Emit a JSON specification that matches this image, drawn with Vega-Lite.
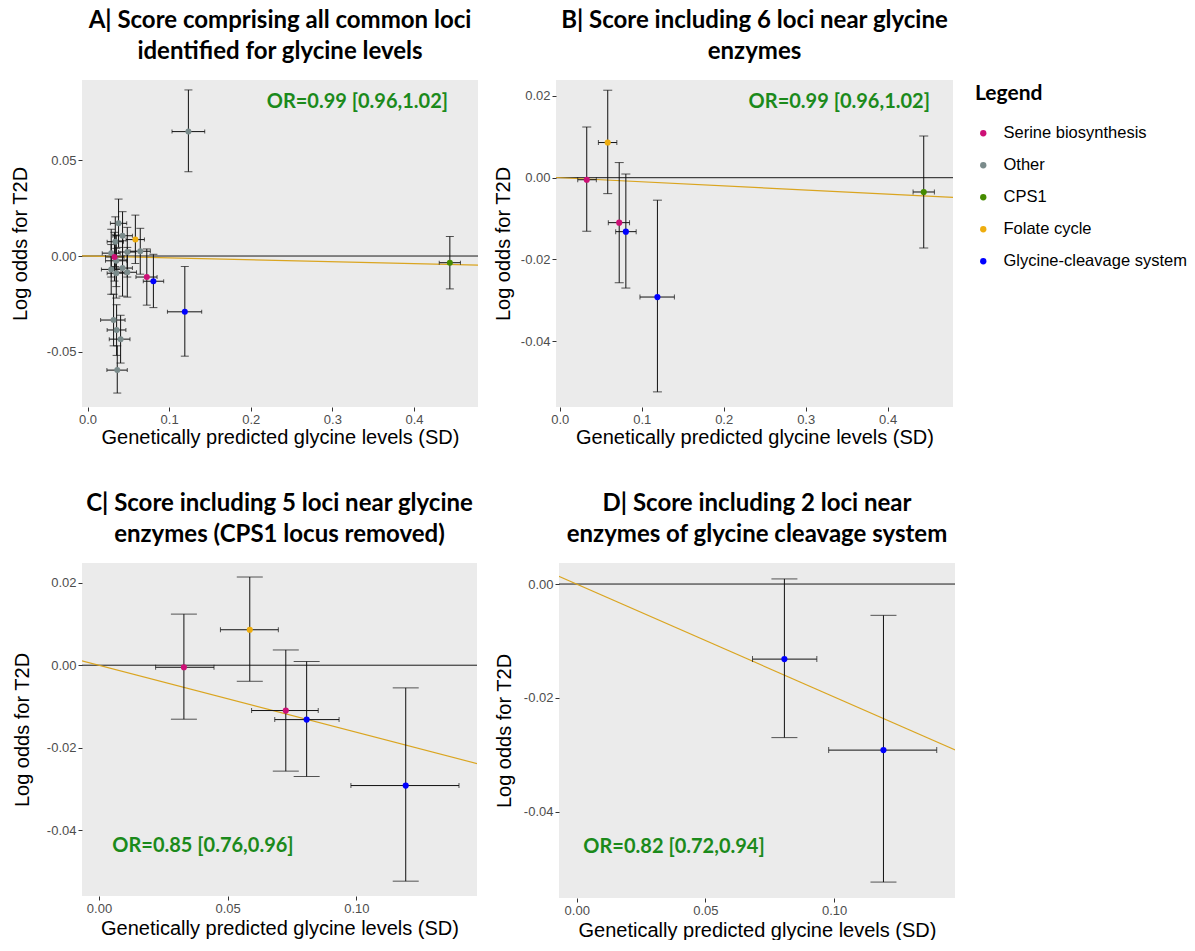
{
  "$schema": "https://vega.github.io/schema/vega-lite/v6.json",
  "padding": {"left": 10, "top": 9, "right": 0, "bottom": 0},
  "datasets": {
    "loci": [
      {"category": "Other", "x": 0.1236, "y": 0.0651, "xlo": 0.1035, "xhi": 0.1436, "ylo": 0.0441, "yhi": 0.0869, "enzyme": false},
      {"category": "Other", "x": 0.038, "y": 0.0171, "xlo": 0.028, "xhi": 0.048, "ylo": 0.0045, "yhi": 0.0298, "enzyme": false},
      {"category": "Other", "x": 0.0429, "y": 0.0106, "xlo": 0.031, "xhi": 0.055, "ylo": -0.002, "yhi": 0.0232, "enzyme": false},
      {"category": "Other", "x": 0.034, "y": 0.0075, "xlo": 0.024, "xhi": 0.044, "ylo": -0.0055, "yhi": 0.0205, "enzyme": false},
      {"category": "Other", "x": 0.029, "y": 0.0015, "xlo": 0.018, "xhi": 0.04, "ylo": -0.011, "yhi": 0.014, "enzyme": false},
      {"category": "Other", "x": 0.0487, "y": 0.0021, "xlo": 0.038, "xhi": 0.059, "ylo": -0.011, "yhi": 0.015, "enzyme": false},
      {"category": "Other", "x": 0.0646, "y": 0.0025, "xlo": 0.052, "xhi": 0.077, "ylo": -0.0095, "yhi": 0.0145, "enzyme": false},
      {"category": "Other", "x": 0.0352, "y": -0.0025, "xlo": 0.022, "xhi": 0.048, "ylo": -0.016, "yhi": 0.011, "enzyme": false},
      {"category": "Other", "x": 0.029, "y": -0.007, "xlo": 0.017, "xhi": 0.041, "ylo": -0.02, "yhi": 0.006, "enzyme": false},
      {"category": "Other", "x": 0.0352, "y": -0.009, "xlo": 0.024, "xhi": 0.046, "ylo": -0.022, "yhi": 0.004, "enzyme": false},
      {"category": "Other", "x": 0.0429, "y": -0.0063, "xlo": 0.031, "xhi": 0.055, "ylo": -0.021, "yhi": 0.008, "enzyme": false},
      {"category": "Other", "x": 0.0487, "y": -0.0085, "xlo": 0.037, "xhi": 0.06, "ylo": -0.0215, "yhi": 0.0045, "enzyme": false},
      {"category": "Other", "x": 0.0319, "y": -0.0335, "xlo": 0.016, "xhi": 0.046, "ylo": -0.047, "yhi": -0.02, "enzyme": false},
      {"category": "Other", "x": 0.0356, "y": -0.0387, "xlo": 0.024, "xhi": 0.047, "ylo": -0.052, "yhi": -0.0255, "enzyme": false},
      {"category": "Other", "x": 0.0405, "y": -0.0435, "xlo": 0.0266, "xhi": 0.052, "ylo": -0.056, "yhi": -0.031, "enzyme": false},
      {"category": "Other", "x": 0.0364, "y": -0.0597, "xlo": 0.0237, "xhi": 0.0487, "ylo": -0.0717, "yhi": -0.047, "enzyme": false},
      {"category": "Serine biosynthesis", "x": 0.033, "y": -0.0005, "xlo": 0.022, "xhi": 0.0447, "ylo": -0.0131, "yhi": 0.0124, "enzyme": true},
      {"category": "Serine biosynthesis", "x": 0.0726, "y": -0.011, "xlo": 0.0593, "xhi": 0.0852, "ylo": -0.0257, "yhi": 0.0037, "enzyme": true},
      {"category": "Folate cycle", "x": 0.0586, "y": 0.0086, "xlo": 0.0472, "xhi": 0.0697, "ylo": -0.0039, "yhi": 0.0214, "enzyme": true},
      {"category": "Glycine-cleavage system", "x": 0.0807, "y": -0.0132, "xlo": 0.0683, "xhi": 0.0933, "ylo": -0.027, "yhi": 0.0009, "enzyme": true},
      {"category": "Glycine-cleavage system", "x": 0.1192, "y": -0.0292, "xlo": 0.0979, "xhi": 0.1399, "ylo": -0.0524, "yhi": -0.0055, "enzyme": true},
      {"category": "CPS1", "x": 0.444, "y": -0.0035, "xlo": 0.431, "xhi": 0.457, "ylo": -0.0172, "yhi": 0.0102, "enzyme": true}
    ],
    "fits": [
      {"panel": "A", "x": -0.01, "y": 0.0001},
      {"panel": "A", "x": 0.5, "y": -0.005},
      {"panel": "B", "x": -0.01, "y": 0.0001},
      {"panel": "B", "x": 0.5, "y": -0.005},
      {"panel": "C", "x": -0.01, "y": 0.001625},
      {"panel": "C", "x": 0.16, "y": -0.026},
      {"panel": "D", "x": -0.01, "y": 0.00198},
      {"panel": "D", "x": 0.16, "y": -0.03175}
    ],
    "ann": [
      {"panel": "A", "label": "OR=0.99 [0.96,1.02]"},
      {"panel": "B", "label": "OR=0.99 [0.96,1.02]"},
      {"panel": "C", "label": "OR=0.85 [0.76,0.96]"},
      {"panel": "D", "label": "OR=0.82 [0.72,0.94]"}
    ]
  },
  "vconcat": [
    {
      "spacing": 14,
      "hconcat": [
        {
          "width": 396, "height": 327,
          "title": {"text": ["A| Score comprising all common loci", "identified for glycine levels"]},
          "layer": [
            {"data": {"name": "ann"}, "transform": [{"filter": "datum.panel === 'A'"}],
             "mark": {"type": "rule", "color": "#1a1a1a", "strokeWidth": 1},
             "encoding": {"y": {"datum": 0, "type": "quantitative", "axis": null}}},
            {"data": {"name": "fits"}, "transform": [{"filter": "datum.panel === 'A'"}],
             "mark": {"type": "line", "color": "#DAA520", "strokeWidth": 1.2, "clip": true},
             "encoding": {"x": {"field": "x", "type": "quantitative", "axis": null}, "y": {"field": "y", "type": "quantitative", "axis": null}}},
            {"data": {"name": "loci"},
             "mark": {"type": "rule", "color": "#111111", "strokeWidth": 1},
             "encoding": {
               "x": {"field": "x", "type": "quantitative", "scale": {"domain": [-0.0068, 0.4785], "nice": false, "zero": false},
                     "axis": {"title": "Genetically predicted glycine levels (SD)", "values": [0, 0.1, 0.2, 0.3, 0.4], "format": ".1f", "titlePadding": 1}},
               "y": {"field": "ylo", "type": "quantitative", "scale": {"domain": [-0.079, 0.0921], "nice": false, "zero": false},
                     "axis": {"title": "Log odds for T2D", "values": [-0.05, 0, 0.05], "labelExpr": "replace(format(datum.value, '.2f'), '\u2212', '-')", "titlePadding": 16}},
               "y2": {"field": "yhi"}}},
            {"data": {"name": "loci"},
             "mark": {"type": "rule", "color": "#111111", "strokeWidth": 1},
             "encoding": {
               "x": {"field": "xlo", "type": "quantitative", "axis": {"orient": "top", "values": [0.05, 0.15, 0.25, 0.35, 0.45], "gridWidth": 0.5, "labels": false, "ticks": false, "title": null}},
               "x2": {"field": "xhi"},
               "y": {"field": "y", "type": "quantitative", "axis": {"orient": "right", "values": [-0.075, -0.025, 0.025, 0.075], "gridWidth": 0.5, "labels": false, "ticks": false, "title": null}}}},
            {"data": {"name": "loci"}, "mark": {"type": "tick", "orient": "horizontal", "size": 8, "thickness": 1, "color": "#111111"},
             "encoding": {"x": {"field": "x", "type": "quantitative", "axis": null}, "y": {"field": "ylo", "type": "quantitative", "axis": null}}},
            {"data": {"name": "loci"}, "mark": {"type": "tick", "orient": "horizontal", "size": 8, "thickness": 1, "color": "#111111"},
             "encoding": {"x": {"field": "x", "type": "quantitative", "axis": null}, "y": {"field": "yhi", "type": "quantitative", "axis": null}}},
            {"data": {"name": "loci"}, "mark": {"type": "tick", "orient": "vertical", "size": 4, "thickness": 1, "color": "#111111"},
             "encoding": {"x": {"field": "xlo", "type": "quantitative", "axis": null}, "y": {"field": "y", "type": "quantitative", "axis": null}}},
            {"data": {"name": "loci"}, "mark": {"type": "tick", "orient": "vertical", "size": 4, "thickness": 1, "color": "#111111"},
             "encoding": {"x": {"field": "xhi", "type": "quantitative", "axis": null}, "y": {"field": "y", "type": "quantitative", "axis": null}}},
            {"data": {"name": "loci"}, "mark": {"type": "circle", "size": 36, "opacity": 1},
             "encoding": {"x": {"field": "x", "type": "quantitative", "axis": null}, "y": {"field": "y", "type": "quantitative", "axis": null},
               "color": {"field": "category", "type": "nominal",
                 "scale": {"domain": ["Serine biosynthesis", "Other", "CPS1", "Folate cycle", "Glycine-cleavage system"], "range": ["#CD1076", "#7A8B8B", "#458B00", "#EEAD0E", "#0000FF"]},
                 "legend": {"title": "Legend", "orient": "none", "legendX": 893, "legendY": 3}}}},
            {"data": {"name": "ann"}, "transform": [{"filter": "datum.panel === 'A'"}],
             "mark": {"type": "text", "font": "Lato", "fontSize": 20, "fontWeight": "bold", "color": "#1B8A1B", "align": "center", "baseline": "middle"},
             "encoding": {"x": {"datum": 0.3307, "type": "quantitative", "axis": null}, "y": {"datum": 0.0806, "type": "quantitative", "axis": null}, "text": {"field": "label"}}}
          ],
          "resolve": {"axis": {"x": "independent", "y": "independent"}}
        },
        {
          "width": 397, "height": 327,
          "title": {"text": ["B| Score including 6 loci near glycine", "enzymes"]},
          "layer": [
            {"data": {"name": "ann"}, "transform": [{"filter": "datum.panel === 'B'"}],
             "mark": {"type": "rule", "color": "#1a1a1a", "strokeWidth": 1},
             "encoding": {"y": {"datum": 0, "type": "quantitative", "axis": null}}},
            {"data": {"name": "fits"}, "transform": [{"filter": "datum.panel === 'B'"}],
             "mark": {"type": "line", "color": "#DAA520", "strokeWidth": 1.2, "clip": true},
             "encoding": {"x": {"field": "x", "type": "quantitative", "axis": null}, "y": {"field": "y", "type": "quantitative", "axis": null}}},
            {"data": {"name": "loci"}, "transform": [{"filter": "datum.enzyme"}],
             "mark": {"type": "rule", "color": "#111111", "strokeWidth": 1},
             "encoding": {
               "x": {"field": "x", "type": "quantitative", "scale": {"domain": [-0.0045, 0.4797], "nice": false, "zero": false},
                     "axis": {"title": "Genetically predicted glycine levels (SD)", "values": [0, 0.1, 0.2, 0.3, 0.4], "format": ".1f", "titlePadding": 1}},
               "y": {"field": "ylo", "type": "quantitative", "scale": {"domain": [-0.0561, 0.0239], "nice": false, "zero": false},
                     "axis": {"title": "Log odds for T2D", "values": [-0.04, -0.02, 0, 0.02], "labelExpr": "replace(format(datum.value, '.2f'), '\u2212', '-')", "titlePadding": 7}},
               "y2": {"field": "yhi"}}},
            {"data": {"name": "loci"}, "transform": [{"filter": "datum.enzyme"}],
             "mark": {"type": "rule", "color": "#111111", "strokeWidth": 1},
             "encoding": {
               "x": {"field": "xlo", "type": "quantitative", "axis": {"orient": "top", "values": [0.05, 0.15, 0.25, 0.35, 0.45], "gridWidth": 0.5, "labels": false, "ticks": false, "title": null}},
               "x2": {"field": "xhi"},
               "y": {"field": "y", "type": "quantitative", "axis": {"orient": "right", "values": [-0.05, -0.03, -0.01, 0.01], "gridWidth": 0.5, "labels": false, "ticks": false, "title": null}}}},
            {"data": {"name": "loci"}, "transform": [{"filter": "datum.enzyme"}], "mark": {"type": "tick", "orient": "horizontal", "size": 9, "thickness": 1, "color": "#111111"},
             "encoding": {"x": {"field": "x", "type": "quantitative", "axis": null}, "y": {"field": "ylo", "type": "quantitative", "axis": null}}},
            {"data": {"name": "loci"}, "transform": [{"filter": "datum.enzyme"}], "mark": {"type": "tick", "orient": "horizontal", "size": 9, "thickness": 1, "color": "#111111"},
             "encoding": {"x": {"field": "x", "type": "quantitative", "axis": null}, "y": {"field": "yhi", "type": "quantitative", "axis": null}}},
            {"data": {"name": "loci"}, "transform": [{"filter": "datum.enzyme"}], "mark": {"type": "tick", "orient": "vertical", "size": 5, "thickness": 1, "color": "#111111"},
             "encoding": {"x": {"field": "xlo", "type": "quantitative", "axis": null}, "y": {"field": "y", "type": "quantitative", "axis": null}}},
            {"data": {"name": "loci"}, "transform": [{"filter": "datum.enzyme"}], "mark": {"type": "tick", "orient": "vertical", "size": 5, "thickness": 1, "color": "#111111"},
             "encoding": {"x": {"field": "xhi", "type": "quantitative", "axis": null}, "y": {"field": "y", "type": "quantitative", "axis": null}}},
            {"data": {"name": "loci"}, "transform": [{"filter": "datum.enzyme"}], "mark": {"type": "circle", "size": 38, "opacity": 1},
             "encoding": {"x": {"field": "x", "type": "quantitative", "axis": null}, "y": {"field": "y", "type": "quantitative", "axis": null},
               "color": {"field": "category", "type": "nominal",
                 "scale": {"domain": ["Serine biosynthesis", "Other", "CPS1", "Folate cycle", "Glycine-cleavage system"], "range": ["#CD1076", "#7A8B8B", "#458B00", "#EEAD0E", "#0000FF"]},
                 "legend": {"title": "Legend", "orient": "none", "legendX": 893, "legendY": 3}}}},
            {"data": {"name": "ann"}, "transform": [{"filter": "datum.panel === 'B'"}],
             "mark": {"type": "text", "font": "Lato", "fontSize": 20, "fontWeight": "bold", "color": "#1B8A1B", "align": "center", "baseline": "middle"},
             "encoding": {"x": {"datum": 0.341, "type": "quantitative", "axis": null}, "y": {"datum": 0.01853, "type": "quantitative", "axis": null}, "text": {"field": "label"}}}
          ],
          "resolve": {"axis": {"x": "independent", "y": "independent"}}
        }
      ]
    },
    {
      "spacing": 16,
      "hconcat": [
        {
          "width": 395, "height": 333,
          "title": {"text": ["C| Score including 5 loci near glycine", "enzymes (CPS1 locus removed)"]},
          "layer": [
            {"data": {"name": "ann"}, "transform": [{"filter": "datum.panel === 'C'"}],
             "mark": {"type": "rule", "color": "#1a1a1a", "strokeWidth": 1},
             "encoding": {"y": {"datum": 0, "type": "quantitative", "axis": null}}},
            {"data": {"name": "fits"}, "transform": [{"filter": "datum.panel === 'C'"}],
             "mark": {"type": "line", "color": "#DAA520", "strokeWidth": 1.2, "clip": true},
             "encoding": {"x": {"field": "x", "type": "quantitative", "axis": null}, "y": {"field": "y", "type": "quantitative", "axis": null}}},
            {"data": {"name": "loci"}, "transform": [{"filter": "datum.enzyme && datum.category !== 'CPS1'"}],
             "mark": {"type": "rule", "color": "#111111", "strokeWidth": 1},
             "encoding": {
               "x": {"field": "x", "type": "quantitative", "scale": {"domain": [-0.0066, 0.1469], "nice": false, "zero": false},
                     "axis": {"title": "Genetically predicted glycine levels (SD)", "values": [0, 0.05, 0.1], "format": ".2f"}},
               "y": {"field": "ylo", "type": "quantitative", "scale": {"domain": [-0.056, 0.0248], "nice": false, "zero": false},
                     "axis": {"title": "Log odds for T2D", "values": [-0.04, -0.02, 0, 0.02], "labelExpr": "replace(format(datum.value, '.2f'), '\u2212', '-')", "titlePadding": 14}},
               "y2": {"field": "yhi"}}},
            {"data": {"name": "loci"}, "transform": [{"filter": "datum.enzyme && datum.category !== 'CPS1'"}],
             "mark": {"type": "rule", "color": "#111111", "strokeWidth": 1},
             "encoding": {
               "x": {"field": "xlo", "type": "quantitative", "axis": {"orient": "top", "values": [0.025, 0.075, 0.125], "gridWidth": 0.5, "labels": false, "ticks": false, "title": null}},
               "x2": {"field": "xhi"},
               "y": {"field": "y", "type": "quantitative", "axis": {"orient": "right", "values": [-0.05, -0.03, -0.01, 0.01], "gridWidth": 0.5, "labels": false, "ticks": false, "title": null}}}},
            {"data": {"name": "loci"}, "transform": [{"filter": "datum.enzyme && datum.category !== 'CPS1'"}], "mark": {"type": "tick", "orient": "horizontal", "size": 26, "thickness": 1, "color": "#111111"},
             "encoding": {"x": {"field": "x", "type": "quantitative", "axis": null}, "y": {"field": "ylo", "type": "quantitative", "axis": null}}},
            {"data": {"name": "loci"}, "transform": [{"filter": "datum.enzyme && datum.category !== 'CPS1'"}], "mark": {"type": "tick", "orient": "horizontal", "size": 26, "thickness": 1, "color": "#111111"},
             "encoding": {"x": {"field": "x", "type": "quantitative", "axis": null}, "y": {"field": "yhi", "type": "quantitative", "axis": null}}},
            {"data": {"name": "loci"}, "transform": [{"filter": "datum.enzyme && datum.category !== 'CPS1'"}], "mark": {"type": "tick", "orient": "vertical", "size": 5, "thickness": 1, "color": "#111111"},
             "encoding": {"x": {"field": "xlo", "type": "quantitative", "axis": null}, "y": {"field": "y", "type": "quantitative", "axis": null}}},
            {"data": {"name": "loci"}, "transform": [{"filter": "datum.enzyme && datum.category !== 'CPS1'"}], "mark": {"type": "tick", "orient": "vertical", "size": 5, "thickness": 1, "color": "#111111"},
             "encoding": {"x": {"field": "xhi", "type": "quantitative", "axis": null}, "y": {"field": "y", "type": "quantitative", "axis": null}}},
            {"data": {"name": "loci"}, "transform": [{"filter": "datum.enzyme && datum.category !== 'CPS1'"}], "mark": {"type": "circle", "size": 38, "opacity": 1},
             "encoding": {"x": {"field": "x", "type": "quantitative", "axis": null}, "y": {"field": "y", "type": "quantitative", "axis": null},
               "color": {"field": "category", "type": "nominal",
                 "scale": {"domain": ["Serine biosynthesis", "Other", "CPS1", "Folate cycle", "Glycine-cleavage system"], "range": ["#CD1076", "#7A8B8B", "#458B00", "#EEAD0E", "#0000FF"]},
                 "legend": {"title": "Legend", "orient": "none", "legendX": 893, "legendY": 3}}}},
            {"data": {"name": "ann"}, "transform": [{"filter": "datum.panel === 'C'"}],
             "mark": {"type": "text", "font": "Lato", "fontSize": 20, "fontWeight": "bold", "color": "#1B8A1B", "align": "center", "baseline": "middle"},
             "encoding": {"x": {"datum": 0.0404, "type": "quantitative", "axis": null}, "y": {"datum": -0.04386, "type": "quantitative", "axis": null}, "text": {"field": "label"}}}
          ],
          "resolve": {"axis": {"x": "independent", "y": "independent"}}
        },
        {
          "width": 396, "height": 335,
          "title": {"text": ["D| Score including 2 loci near", "enzymes of glycine cleavage system"]},
          "layer": [
            {"data": {"name": "ann"}, "transform": [{"filter": "datum.panel === 'D'"}],
             "mark": {"type": "rule", "color": "#1a1a1a", "strokeWidth": 1},
             "encoding": {"y": {"datum": 0, "type": "quantitative", "axis": null}}},
            {"data": {"name": "fits"}, "transform": [{"filter": "datum.panel === 'D'"}],
             "mark": {"type": "line", "color": "#DAA520", "strokeWidth": 1.2, "clip": true},
             "encoding": {"x": {"field": "x", "type": "quantitative", "axis": null}, "y": {"field": "y", "type": "quantitative", "axis": null}}},
            {"data": {"name": "loci"}, "transform": [{"filter": "datum.category === 'Glycine-cleavage system'"}],
             "mark": {"type": "rule", "color": "#111111", "strokeWidth": 1},
             "encoding": {
               "x": {"field": "x", "type": "quantitative", "scale": {"domain": [-0.0069, 0.147], "nice": false, "zero": false},
                     "axis": {"title": "Genetically predicted glycine levels (SD)", "values": [0, 0.05, 0.1], "format": ".2f"}},
               "y": {"field": "ylo", "type": "quantitative", "scale": {"domain": [-0.0552, 0.0037], "nice": false, "zero": false},
                     "axis": {"title": "Log odds for T2D", "values": [-0.04, -0.02, 0], "labelExpr": "replace(format(datum.value, '.2f'), '\u2212', '-')", "titlePadding": 9}},
               "y2": {"field": "yhi"}}},
            {"data": {"name": "loci"}, "transform": [{"filter": "datum.category === 'Glycine-cleavage system'"}],
             "mark": {"type": "rule", "color": "#111111", "strokeWidth": 1},
             "encoding": {
               "x": {"field": "xlo", "type": "quantitative", "axis": {"orient": "top", "values": [0.025, 0.075, 0.125], "gridWidth": 0.5, "labels": false, "ticks": false, "title": null}},
               "x2": {"field": "xhi"},
               "y": {"field": "y", "type": "quantitative", "axis": {"orient": "right", "values": [-0.05, -0.03, -0.01], "gridWidth": 0.5, "labels": false, "ticks": false, "title": null}}}},
            {"data": {"name": "loci"}, "transform": [{"filter": "datum.category === 'Glycine-cleavage system'"}], "mark": {"type": "tick", "orient": "horizontal", "size": 26, "thickness": 1, "color": "#111111"},
             "encoding": {"x": {"field": "x", "type": "quantitative", "axis": null}, "y": {"field": "ylo", "type": "quantitative", "axis": null}}},
            {"data": {"name": "loci"}, "transform": [{"filter": "datum.category === 'Glycine-cleavage system'"}], "mark": {"type": "tick", "orient": "horizontal", "size": 26, "thickness": 1, "color": "#111111"},
             "encoding": {"x": {"field": "x", "type": "quantitative", "axis": null}, "y": {"field": "yhi", "type": "quantitative", "axis": null}}},
            {"data": {"name": "loci"}, "transform": [{"filter": "datum.category === 'Glycine-cleavage system'"}], "mark": {"type": "tick", "orient": "vertical", "size": 6, "thickness": 1, "color": "#111111"},
             "encoding": {"x": {"field": "xlo", "type": "quantitative", "axis": null}, "y": {"field": "y", "type": "quantitative", "axis": null}}},
            {"data": {"name": "loci"}, "transform": [{"filter": "datum.category === 'Glycine-cleavage system'"}], "mark": {"type": "tick", "orient": "vertical", "size": 6, "thickness": 1, "color": "#111111"},
             "encoding": {"x": {"field": "xhi", "type": "quantitative", "axis": null}, "y": {"field": "y", "type": "quantitative", "axis": null}}},
            {"data": {"name": "loci"}, "transform": [{"filter": "datum.category === 'Glycine-cleavage system'"}], "mark": {"type": "circle", "size": 38, "opacity": 1},
             "encoding": {"x": {"field": "x", "type": "quantitative", "axis": null}, "y": {"field": "y", "type": "quantitative", "axis": null},
               "color": {"field": "category", "type": "nominal",
                 "scale": {"domain": ["Serine biosynthesis", "Other", "CPS1", "Folate cycle", "Glycine-cleavage system"], "range": ["#CD1076", "#7A8B8B", "#458B00", "#EEAD0E", "#0000FF"]},
                 "legend": {"title": "Legend", "orient": "none", "legendX": 893, "legendY": 3}}}},
            {"data": {"name": "ann"}, "transform": [{"filter": "datum.panel === 'D'"}],
             "mark": {"type": "text", "font": "Lato", "fontSize": 20, "fontWeight": "bold", "color": "#1B8A1B", "align": "center", "baseline": "middle"},
             "encoding": {"x": {"datum": 0.0378, "type": "quantitative", "axis": null}, "y": {"datum": -0.04626, "type": "quantitative", "axis": null}, "text": {"field": "label"}}}
          ],
          "resolve": {"axis": {"x": "independent", "y": "independent"}}
        }
      ]
    }
  ],
  "spacing": 45,
  "config": {
    "view": {"fill": "#EBEBEB", "stroke": null},
    "axis": {"grid": true, "gridColor": "#FFFFFF", "gridWidth": 1.1, "domain": false, "tickColor": "#333333", "tickSize": 4, "labelColor": "#4D4D4D", "labelFont": "Liberation Sans", "labelFontSize": 13, "labelPadding": 2, "titleFont": "Liberation Sans", "titleFontSize": 20, "titleFontWeight": "normal", "titleColor": "#000000", "titlePadding": 3},
    "title": {"font": "Lato", "fontSize": 24, "fontWeight": "bold", "color": "#000000", "anchor": "middle", "frame": "group", "lineHeight": 31, "offset": 16},
    "legend": {"titleFont": "Lato", "titleFontSize": 21, "titleFontWeight": "bold", "titleColor": "#000000", "titlePadding": 21, "labelFont": "Liberation Sans", "labelFontSize": 16.5, "labelColor": "#000000", "labelLimit": 300, "symbolType": "circle", "symbolSize": 40, "symbolStrokeWidth": 0, "rowPadding": 15, "symbolOffset": 0, "labelOffset": 12}
  }
}
